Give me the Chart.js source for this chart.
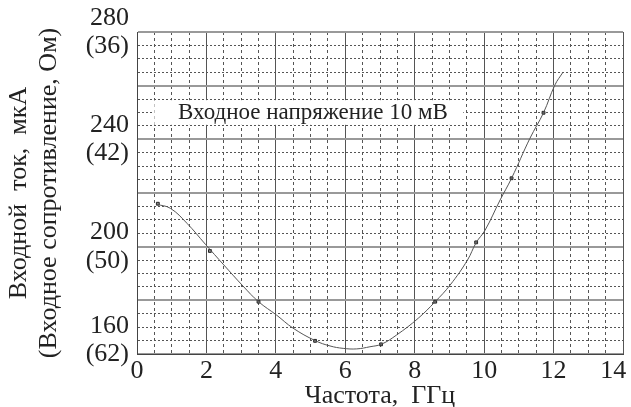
<!DOCTYPE html>
<html>
<head>
<meta charset="utf-8">
<script src="https://cdn.jsdelivr.net/npm/chart.js@4/dist/chart.umd.min.js"></script>
<style>
  body { margin: 0; background: #fff; }
</style>
</head>
<body>
<canvas id="chart" width="631" height="407"></canvas>
<script>
// fitted curve (GHz, uA)
const curveX = [0.56, 0.96, 1.44, 1.97, 2.50, 3.07, 3.50, 4.02, 4.50, 5.13, 5.56, 5.94, 6.33, 6.71, 7.05, 7.48, 8.10, 8.59, 9.02, 9.52, 9.77, 10.03, 10.46, 10.79, 11.32, 11.71, 12.04, 12.26];
const curveY = [215.8, 214.3, 208.7, 200.9, 193.2, 185.1, 179.5, 174.5, 169.6, 165.0, 163.0, 162.1, 161.9, 162.7, 163.7, 167.1, 173.3, 179.5, 185.7, 195.0, 201.5, 206.2, 217.4, 225.5, 240.4, 249.9, 260.3, 264.8];

// measured points
const pointX = [0.6, 2.1, 3.5, 5.13, 7.03, 8.59, 9.77, 10.79, 11.71];
const pointY = [216, 198.4, 179.5, 164.9, 163.6, 179.5, 201.6, 225.5, 249.9];

// y tick labels: current (resistance)
const yLabels = {
    280: ['280', '(36)'],
    240: ['240', '(42)'],
    200: ['200', '(50)'],
    160: ['160', '(62)', '']
};
const xLabelValues = [0, 2, 4, 6, 8, 10, 12, 14];

const noteText = 'Входное напряжение 10 мВ';

Chart.defaults.font.family = "'Liberation Serif', 'DejaVu Serif', serif";
Chart.defaults.color = '#222';

const toPts = (xs, ys) => xs.map((v, i) => ({ x: v, y: ys[i] }));

const notePlugin = {
    id: 'note',
    beforeDatasetsDraw(chart) {
        const { ctx, scales: { x, y } } = chart;
        const left = x.getPixelForValue(0.5);
        const right = x.getPixelForValue(9.4);
        const top = y.getPixelForValue(254.6);
        const bottom = y.getPixelForValue(245.4);
        ctx.save();
        ctx.fillStyle = '#fff';
        ctx.fillRect(left, top, right - left, bottom - top);
        ctx.fillStyle = '#222';
        ctx.font = "23px 'Liberation Serif'";
        ctx.textAlign = 'center';
        ctx.textBaseline = 'middle';
        ctx.fillText(noteText, x.getPixelForValue(5.07), y.getPixelForValue(250));
        ctx.restore();
    }
};

const dashFor = (major, pattern) => ctx => {
    if (!ctx.tick) return [];
    return ctx.tick.value % major === 0 ? [] : pattern;
};

new Chart(document.getElementById('chart'), {
    type: 'scatter',
    data: {
        datasets: [{
            data: toPts(curveX, curveY),
            showLine: true,
            borderColor: '#555',
            borderWidth: 1,
            pointRadius: 0,
            tension: 0.4
        }, {
            data: toPts(pointX, pointY),
            showLine: false,
            pointStyle: 'rect',
            pointRadius: 2,
            borderWidth: 1,
            borderColor: '#222',
            backgroundColor: '#888'
        }]
    },
    options: {
        responsive: false,
        animation: false,
        layout: { padding: { left: 4, top: 32, right: 8, bottom: 0 } },
        plugins: { legend: { display: false }, tooltip: { enabled: false } },
        scales: {
            x: {
                type: 'linear',
                min: 0,
                max: 14,
                afterFit: s => { s.height = 53; s.paddingRight = 0; s.paddingLeft = 0; },
                ticks: {
                    stepSize: 0.5,
                    autoSkip: false,
                    maxRotation: 0,
                    padding: 2,
                    font: { size: 26 },
                    color: '#222',
                    callback: v => xLabelValues.includes(v) ? (v === 14 ? '14   ' : String(v)) : ''
                },
                grid: {
                    drawTicks: false,
                    color: ctx => ctx.tick && ctx.tick.value % 2 === 0 ? '#555' : '#555',
                    lineWidth: 1
                },
                border: { display: true, color: '#444', width: 1, dash: dashFor(2, [3, 3]) },
                title: {
                    display: true,
                    text: 'Частота,  ГГц',
                    font: { size: 26, lineHeight: 0.8 },
                    color: '#222',
                    padding: 0
                }
            },
            y: {
                type: 'linear',
                min: 160,
                max: 280,
                afterFit: s => { s.width = 133; s.paddingTop = 0; s.paddingBottom = 0; },
                ticks: {
                    stepSize: 5,
                    autoSkip: false,
                    padding: 8,
                    font: { size: 26, lineHeight: 1.08 },
                    color: '#222',
                    callback: v => yLabels[v] || ''
                },
                grid: {
                    drawTicks: false,
                    color: ctx => ctx.tick && ctx.tick.value % 20 === 0 ? '#999' : '#555',
                    lineWidth: ctx => ctx.tick && ctx.tick.value % 20 === 0 ? 2 : 1
                },
                border: { display: true, color: '#444', width: 1, dash: dashFor(20, [2, 2]) },
                title: {
                    display: true,
                    text: ['Входной  ток,  мкА', '(Входное сопротивление, Ом)'],
                    font: { size: 26, lineHeight: 1.15 },
                    color: '#222',
                    padding: { top: 0, bottom: 0 }
                }
            }
        }
    },
    plugins: [notePlugin]
});
</script>
</body>
</html>
